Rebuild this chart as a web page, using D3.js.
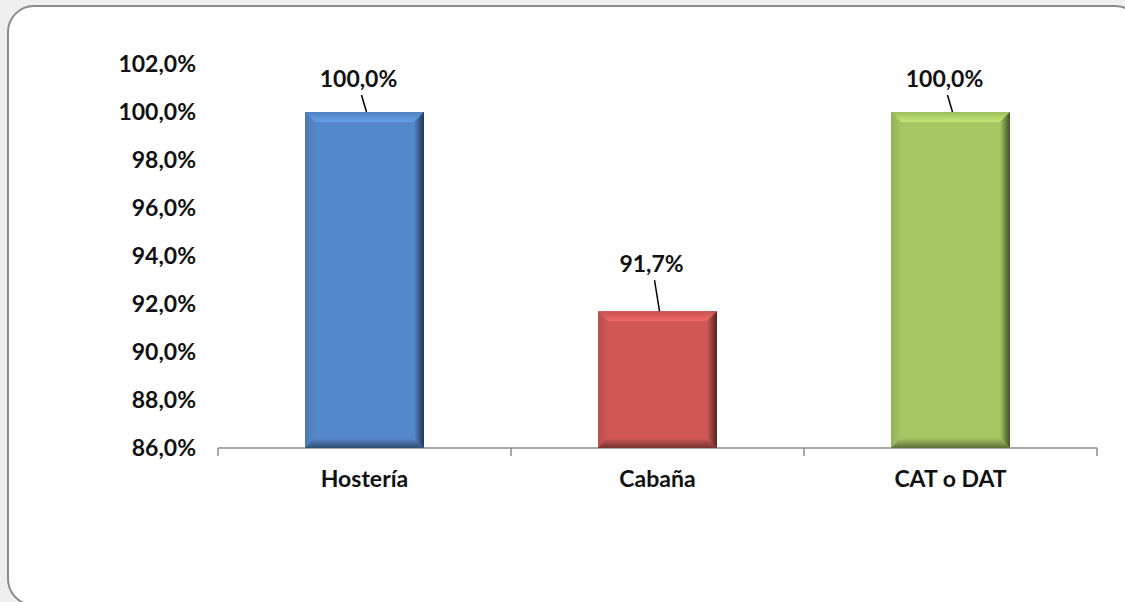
<!DOCTYPE html>
<html>
<head>
<meta charset="utf-8">
<script src="https://cdn.jsdelivr.net/npm/d3@7"></script>
<style>
  html, body { margin: 0; padding: 0; background: #efefef; }
  svg { display: block; }
</style>
</head>
<body>
<svg id="chart" width="1125" height="602"></svg>
<script>
var categories = ["Hostería", "Cabaña", "CAT o DAT"];
var values = [100.0, 91.7, 100.0];
var yTicks = [86, 88, 90, 92, 94, 96, 98, 100, 102];
var barColors = ["#5588CA", "#CF5856", "#A6C664"];

var svg = d3.select("#chart");
var margin = {top: 64, right: 28, bottom: 154, left: 218};
var width = 1125 - margin.left - margin.right;
var height = 602 - margin.top - margin.bottom;

// chart area frame
svg.append("rect")
    .attr("x", 8).attr("y", 6)
    .attr("width", 1133).attr("height", 599)
    .attr("rx", 26).attr("ry", 26)
    .attr("fill", "#fff")
    .attr("stroke", "#8a8a8a")
    .attr("stroke-width", 2);

var defs = svg.append("defs");

var g = svg.append("g")
    .attr("transform", "translate(" + margin.left + "," + margin.top + ")");

var x = d3.scaleBand()
    .domain(categories)
    .range([0, width])
    .paddingInner(0.594)
    .paddingOuter(0.297);

var y = d3.scaleLinear()
    .domain([86, 102])
    .range([height, 0]);

var fmt = function(v) { return v.toFixed(1).replace(".", ",") + "%"; };
var font = "Lato, 'Open Sans', sans-serif";
var fs = 23;

// y axis labels (no axis line)
g.append("g")
    .selectAll("text")
    .data(yTicks)
    .enter().append("text")
    .attr("x", -22)
    .attr("y", function(d) { return y(d); })
    .attr("dy", "0.36em")
    .attr("text-anchor", "end")
    .attr("font-family", font)
    .attr("font-weight", "bold")
    .attr("font-size", fs)
    .attr("fill", "#111")
    .text(fmt);

// x axis line and ticks
var xa = g.append("g").attr("transform", "translate(0," + height + ")");
xa.append("line")
    .attr("x1", 0).attr("x2", width)
    .attr("stroke", "#8c8c8c").attr("stroke-width", 1.5);
var step = width / categories.length;
xa.selectAll("line.tick")
    .data(d3.range(categories.length + 1))
    .enter().append("line")
    .attr("class", "tick")
    .attr("x1", function(d) { return d * step; })
    .attr("x2", function(d) { return d * step; })
    .attr("y1", 0).attr("y2", 8)
    .attr("stroke", "#8c8c8c").attr("stroke-width", 1.5);
xa.selectAll("text")
    .data(categories)
    .enter().append("text")
    .attr("x", function(d) { return x(d) + x.bandwidth() / 2; })
    .attr("y", 39)
    .attr("text-anchor", "middle")
    .attr("font-family", font)
    .attr("font-weight", "bold")
    .attr("font-size", fs)
    .attr("fill", "#111")
    .text(function(d) { return d; });

// gradient helper
function grad(id, x1, y1, x2, y2, c1, c2) {
    var lg = defs.append("linearGradient").attr("id", id)
        .attr("x1", x1).attr("y1", y1).attr("x2", x2).attr("y2", y2);
    lg.append("stop").attr("offset", "0%").attr("stop-color", c1);
    lg.append("stop").attr("offset", "100%").attr("stop-color", c2);
    return "url(#" + id + ")";
}

// bevelled bars
var bev = 10;
var bars = g.selectAll("g.bar")
    .data(categories.map(function(c, i) { return {c: c, v: values[i], col: barColors[i], i: i}; }))
    .enter().append("g").attr("class", "bar");

bars.each(function(d) {
    var b = d3.select(this);
    var x0 = x(d.c), x1 = x0 + x.bandwidth();
    var y0 = y(d.v), y1 = y(86);
    var base = d3.color(d.col);
    var pts = function(arr) { return arr.map(function(p) { return p.join(","); }).join(" "); };
    b.append("rect")
        .attr("x", x0).attr("y", y0)
        .attr("width", x1 - x0).attr("height", y1 - y0)
        .attr("fill", base);
    // top
    b.append("polygon")
        .attr("points", pts([[x0, y0], [x1, y0], [x1 - bev, y0 + bev], [x0 + bev, y0 + bev]]))
        .attr("fill", grad("t" + d.i, 0, 0, 0, 1, base.darker(0.15), base.brighter(0.45)));
    // left
    b.append("polygon")
        .attr("points", pts([[x0, y0], [x0 + bev, y0 + bev], [x0 + bev, y1 - bev], [x0, y1]]))
        .attr("fill", grad("l" + d.i, 0, 0, 1, 0, base.darker(0.35), base));
    // right
    b.append("polygon")
        .attr("points", pts([[x1, y0], [x1, y1], [x1 - bev, y1 - bev], [x1 - bev, y0 + bev]]))
        .attr("fill", grad("r" + d.i, 0, 0, 1, 0, base, base.darker(2.6)));
    // bottom
    b.append("polygon")
        .attr("points", pts([[x0, y1], [x1, y1], [x1 - bev, y1 - bev], [x0 + bev, y1 - bev]]))
        .attr("fill", grad("b" + d.i, 0, 0, 0, 1, base, base.darker(1.6)));
    // leader line + label
    var cx = x0 + (x1 - x0) / 2;
    var off = d.v < 95 ? 30 : 16;
    b.append("line")
        .attr("x1", cx - 3).attr("y1", y0 - off - 1)
        .attr("x2", cx + 2).attr("y2", y0)
        .attr("stroke", "#000").attr("stroke-width", 1.5);
    b.append("text")
        .attr("x", cx - 6)
        .attr("y", y0 - off - 9)
        .attr("text-anchor", "middle")
        .attr("font-family", font)
        .attr("font-weight", "bold")
        .attr("font-size", fs)
        .attr("fill", "#111")
        .text(fmt(d.v));
});
</script>
</body>
</html>
